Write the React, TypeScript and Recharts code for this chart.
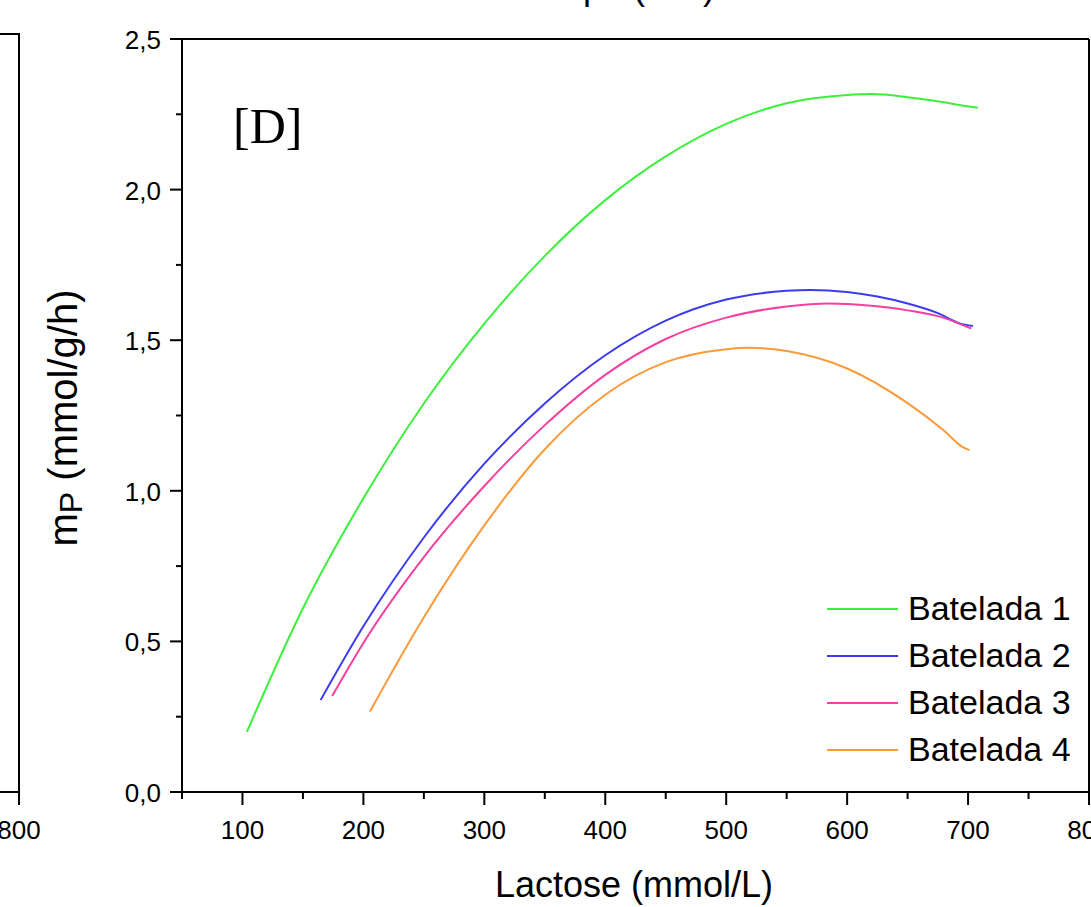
import React from 'react';
import { LineChart, Line, XAxis, YAxis, ReferenceLine } from 'recharts';

// lactose (mmol/L) and mP (mmol/g/h)
const lactose1 = [103.7, 150, 200, 250, 300, 350, 400, 450, 500, 550, 600, 620, 650, 680, 695, 708];
const rate1 = [0.2, 0.61, 0.975, 1.29, 1.555, 1.78, 1.965, 2.11, 2.218, 2.287, 2.314, 2.317, 2.307, 2.29, 2.279, 2.272];

const lactose2 = [164.6, 200, 250, 300, 350, 400, 450, 500, 550, 570, 600, 625, 650, 675, 693, 704];
const rate2 = [0.305, 0.55, 0.845, 1.09, 1.29, 1.45, 1.565, 1.635, 1.664, 1.667, 1.66, 1.645, 1.622, 1.59, 1.556, 1.547];

const lactose3 = [174.2, 200, 250, 300, 350, 400, 450, 500, 550, 585, 620, 650, 680, 700, 702.6];
const rate3 = [0.319, 0.495, 0.78, 1.016, 1.218, 1.385, 1.504, 1.575, 1.612, 1.622, 1.614, 1.599, 1.574, 1.543, 1.539];

const lactose4 = [205.4, 250, 300, 350, 400, 450, 500, 516.7, 550, 600, 650, 680, 696, 701.2];
const rate4 = [0.267, 0.58, 0.885, 1.138, 1.319, 1.427, 1.47, 1.475, 1.464, 1.406, 1.291, 1.2, 1.144, 1.135];

const seriesNames = ['Batelada 1', 'Batelada 2', 'Batelada 3', 'Batelada 4'];
const seriesColors = ['#3df03d', '#3b3bf0', '#f73fa0', '#fb9a3a'];

const xTicks = [50, 100, 150, 200, 250, 300, 350, 400, 450, 500, 550, 600, 650, 700, 750, 800];
const yTicks = [0, 0.25, 0.5, 0.75, 1, 1.25, 1.5, 1.75, 2, 2.25, 2.5];

const FONT = '"Liberation Sans", Arial, sans-serif';

const toPoints = (xs: number[], ys: number[]) => xs.map((x, i) => ({ x, y: ys[i] }));
const series = [
    toPoints(lactose1, rate1),
    toPoints(lactose2, rate2),
    toPoints(lactose3, rate3),
    toPoints(lactose4, rate4),
];

const XTick = (props: any) => {
    const { x, y, payload } = props;
    const major = payload.value % 100 === 0;
    return (
        <g>
            <line x1={x} y1={y} x2={x} y2={y + (major ? 13 : 7)} stroke="#000" strokeWidth={2} />
            {major && (
                <text x={x} y={y + 47} textAnchor="middle" fontSize={26} fontFamily={FONT} fill="#000">
                    {payload.value}
                </text>
            )}
        </g>
    );
};

const YTick = (props: any) => {
    const { x, y, payload } = props;
    const v = payload.value;
    const major = Math.abs(v * 2 - Math.round(v * 2)) < 1e-6;
    return (
        <g>
            <line x1={x - (major ? 12 : 6)} y1={y} x2={x} y2={y} stroke="#000" strokeWidth={2} />
            {major && (
                <text x={x - 21} y={y + 10} textAnchor="end" fontSize={26} fontFamily={FONT} fill="#000">
                    {v.toFixed(1).replace('.', ',')}
                </text>
            )}
        </g>
    );
};

const ChartLegend = () => (
    <div style={{ position: 'absolute', left: 827, top: 585, fontFamily: FONT, fontSize: 34, color: '#000' }}>
        {seriesNames.map((name, i) => (
            <div key={name} style={{ display: 'flex', alignItems: 'center', height: 47 }}>
                <div style={{ width: 71, height: 2, background: seriesColors[i], marginRight: 10 }} />
                <span style={{ lineHeight: '47px', whiteSpace: 'nowrap' }}>{name}</span>
            </div>
        ))}
    </div>
);

export default function App() {
    return (
        <div style={{ position: 'absolute', left: 0, top: 0, width: 1091, height: 907, background: '#fff', overflow: 'hidden' }}>
            <LineChart width={1091} height={907} margin={{ top: 39, right: 2, bottom: 0, left: 82 }}>
                <XAxis
                    type="number"
                    dataKey="x"
                    domain={[50, 800]}
                    ticks={xTicks}
                    interval={0}
                    allowDataOverflow
                    height={115}
                    tickSize={0}
                    tickMargin={0}
                    tickLine={false}
                    tick={<XTick />}
                    axisLine={{ stroke: '#000', strokeWidth: 2 }}
                />
                <YAxis
                    type="number"
                    dataKey="y"
                    domain={[0, 2.5]}
                    ticks={yTicks}
                    interval={0}
                    allowDataOverflow
                    width={100}
                    tickSize={0}
                    tickMargin={0}
                    tickLine={false}
                    tick={<YTick />}
                    axisLine={{ stroke: '#000', strokeWidth: 2 }}
                />
                <ReferenceLine y={2.5} stroke="#000" strokeWidth={2} />
                <ReferenceLine x={800} stroke="#000" strokeWidth={2} />
                {series.map((data, i) => (
                    <Line
                        key={seriesNames[i]}
                        data={data}
                        dataKey="y"
                        name={seriesNames[i]}
                        type="monotone"
                        stroke={seriesColors[i]}
                        strokeWidth={2}
                        dot={false}
                        isAnimationActive={false}
                    />
                ))}
            </LineChart>
            <ChartLegend />
            <svg
                width={1091}
                height={907}
                style={{ position: 'absolute', left: 0, top: 0, pointerEvents: 'none' }}
            >
                {/* edge of the neighbouring panel */}
                <line x1={0} y1={34} x2={20} y2={34} stroke="#000" strokeWidth={2} />
                <line x1={19} y1={33} x2={19} y2={805} stroke="#000" strokeWidth={2} />
                <line x1={0} y1={792} x2={20} y2={792} stroke="#000" strokeWidth={2} />
                <text x={19} y={839} textAnchor="middle" fontSize={26} fontFamily={FONT}>800</text>
                <text x={515} y={-1} fontSize={36} fontFamily={FONT}>Tempo (min)</text>
                <text x={233} y={143} fontSize={50} fontFamily='"Liberation Serif", "Times New Roman", serif'>[D]</text>
                <text x={634} y={897} textAnchor="middle" fontSize={36} fontFamily={FONT}>Lactose (mmol/L)</text>
                <text
                    x={77}
                    y={418}
                    transform="rotate(-90 77 418)"
                    textAnchor="middle"
                    fontSize={40}
                    fontFamily={FONT}
                >
                    m<tspan fontSize={32} dy={5}>P</tspan>
                    <tspan dy={-5}> (mmol/g/h)</tspan>
                </text>
            </svg>
        </div>
    );
}
